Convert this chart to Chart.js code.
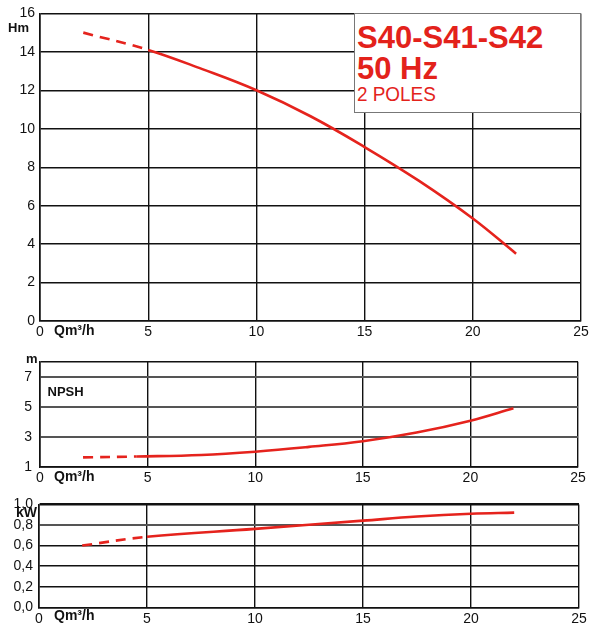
<!DOCTYPE html>
<html>
<head>
<meta charset="utf-8">
<script src="https://cdn.jsdelivr.net/npm/chart.js@4.4.1/dist/chart.umd.min.js"></script>
<style>
  body { margin: 0; background: #fff; font-family: "Liberation Sans", Arial, sans-serif; }
  #page { position: relative; width: 593px; height: 627px; overflow: hidden; }
  .box { position: absolute; }
  .lbl { position: absolute; font-weight: bold; color: #111; white-space: nowrap; }
  .red { position: absolute; color: #e3221b; white-space: nowrap; transform-origin: left top; }
  #titleBox { position: absolute; left: 354px; top: 13px; width: 227px; height: 100px; box-sizing: border-box;
    border: 1.5px solid #777; background: #fff; }
</style>
</head>
<body>
<div id="page">
  <div class="box" style="left:0;top:0;width:593px;height:345px"><canvas id="headChart"></canvas></div>
  <div class="box" style="left:0;top:340px;width:593px;height:150px"><canvas id="npshChart"></canvas></div>
  <div class="box" style="left:0;top:490px;width:593px;height:137px"><canvas id="powerChart"></canvas></div>

  <div id="titleBox"></div>
  <div class="red" style="left:357px;top:21.8px;font-size:31px;line-height:31px;font-weight:bold">S40-S41-S42</div>
  <div class="red" style="left:357px;top:52.8px;font-size:31px;line-height:31px;font-weight:bold">50 Hz</div>
  <div class="red" style="left:357px;top:83.2px;font-size:21px;line-height:21px;transform:scaleX(0.9)">2 POLES</div>

  <div class="lbl" style="left:8px;top:20.7px;font-size:13px;line-height:13px">Hm</div>
  <div class="lbl" style="left:54px;top:322.5px;font-size:14px;line-height:14px">Qm³/h</div>
  <div class="lbl" style="left:26px;top:352px;font-size:13px;line-height:13px">m</div>
  <div class="lbl" style="left:47.5px;top:385px;font-size:13px;line-height:13px">NPSH</div>
  <div class="lbl" style="left:54px;top:469px;font-size:14px;line-height:14px">Qm³/h</div>
  <div class="lbl" style="left:16px;top:504.8px;font-size:14px;line-height:14px">kW</div>
  <div class="lbl" style="left:54px;top:608px;font-size:14px;line-height:14px">Qm³/h</div>
</div>
<script>
// flow axis, m3/h
const flowTicks = [0, 5, 10, 15, 20, 25];

// head curve (Hm), dashed up to index 1
const flowH = [2, 5, 7.5, 10, 12.5, 15, 17.5, 20, 22];
const headH = [15.0, 14.1, 13.1, 12.0, 10.65, 9.05, 7.3, 5.33, 3.5];
const headTicks = [0, 2, 4, 6, 8, 10, 12, 14, 16];

// NPSH curve (m), dashed up to index 1
const flowN = [2, 4.5, 7.5, 10, 12.5, 15, 17.5, 20, 22];
const npsh = [1.62, 1.68, 1.78, 2.0, 2.32, 2.7, 3.28, 4.07, 4.9];
const npshTicks = [1, 3, 5, 7, 8];

// power curve (kW), dashed up to index 1
const flowP = [2, 5, 10, 15, 17.5, 20, 22];
const power = [0.6, 0.685, 0.762, 0.842, 0.882, 0.909, 0.92];
const powerTicks = [0, 0.2, 0.4, 0.6, 0.8, 1.0];

const RED = '#e5231d';
const tickFont = { family: '"Liberation Sans", Arial, sans-serif', size: 14 };

function makeChart(id, xs, ys, opts) {
    const ctx = document.getElementById(id).getContext('2d');
    return new Chart(ctx, {
        type: 'line',
        data: {
            datasets: [{
                data: xs.map((q, i) => ({ x: q, y: ys[i] })),
                borderColor: RED,
                borderWidth: 2.6,
                pointRadius: 0,
                tension: 0.4,
                segment: {
                    borderDash: c => c.p1DataIndex <= 1 ? [10, 7] : undefined
                }
            }]
        },
        options: {
            responsive: true,
            maintainAspectRatio: false,
            animation: false,
            layout: { padding: opts.padding },
            plugins: { legend: { display: false }, tooltip: { enabled: false } },
            scales: {
                x: {
                    type: 'linear',
                    min: 0, max: 25,
                    afterBuildTicks: s => { s.ticks = flowTicks.map(v => ({ value: v })); },
                    afterFit: s => { s.height = opts.xHeight; },
                    ticks: { font: tickFont, color: '#111', padding: 3, maxRotation: 0, autoSkip: false },
                    grid: { color: '#111', lineWidth: 1.4, drawTicks: false },
                    border: { color: '#111', width: 1.6 }
                },
                y: {
                    min: opts.yTicks[0], max: opts.yTicks[opts.yTicks.length - 1],
                    afterBuildTicks: s => { s.ticks = opts.yTicks.map(v => ({ value: v })); },
                    afterFit: s => { s.width = opts.yWidth; },
                    ticks: { font: tickFont, color: '#111', padding: opts.yPad, callback: opts.yLabel },
                    grid: { color: opts.hColor, lineWidth: opts.hWidth, drawTicks: false },
                    border: { color: '#111', width: 1.6 }
                }
            }
        }
    });
}

makeChart('headChart', flowH, headH, {
    padding: { top: 13, right: 12, left: 0, bottom: 0 },
    xHeight: 24, yWidth: 40, yPad: 5, yTicks: headTicks,
    yLabel: v => v,
    hColor: '#111', hWidth: 1.4
});

makeChart('npshChart', flowN, npsh, {
    padding: { top: 21.7, right: 15, left: 0, bottom: 0 },
    xHeight: 23.3, yWidth: 40, yPad: 8, yTicks: npshTicks,
    yLabel: v => v === 8 ? '' : v,
    hColor: c => c.tick.value === 8 ? '#111' : '#555',
    hWidth: c => c.tick.value === 8 ? 1.5 : 1.9
});

makeChart('powerChart', flowP, power, {
    padding: { top: 13, right: 14, left: 0, bottom: 0 },
    xHeight: 19.7, yWidth: 39, yPad: 6, yTicks: powerTicks,
    yLabel: v => v.toFixed(1).replace('.', ','),
    hColor: c => c.tick.value === 0.8 ? '#555' : '#111',
    hWidth: c => c.tick.value === 1.0 ? 2.4 : (c.tick.value === 0.8 ? 1.9 : 1.4)
});
</script>
</body>
</html>
